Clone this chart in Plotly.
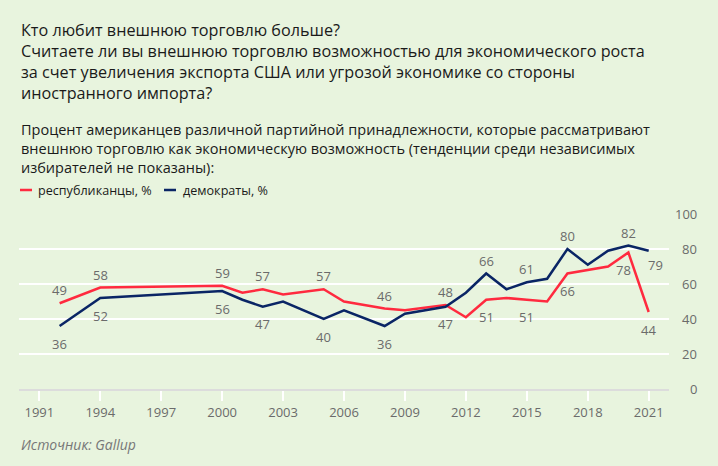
import plotly.graph_objects as go

years_rep = [1992, 1994, 2000, 2001, 2002, 2003, 2005, 2006, 2008, 2009, 2011, 2012, 2013, 2014, 2015, 2016, 2017, 2018, 2019, 2020, 2021]
rep = [49, 58, 59, 55, 57, 54, 57, 50, 46, 45, 48, 41, 51, 52, 51, 50, 66, 68, 70, 78, 44]

years_dem = [1992, 1994, 2000, 2001, 2002, 2003, 2005, 2006, 2008, 2009, 2011, 2012, 2013, 2014, 2015, 2016, 2017, 2018, 2019, 2020, 2021]
dem = [36, 52, 56, 51, 47, 50, 40, 45, 36, 43, 47, 55, 66, 57, 61, 63, 80, 71, 79, 82, 79]

# labelled points: (year, position)
rep_labels = [(1992, "above"), (1994, "above"), (2000, "above"), (2002, "above"), (2005, "above"),
              (2008, "above"), (2011, "above"), (2013, "below"), (2015, "below"), (2017, "below"),
              (2020, "below_left"), (2021, "below")]
dem_labels = [(1992, "below"), (1994, "below"), (2000, "below"), (2002, "below"), (2005, "below"),
              (2008, "below"), (2011, "below"), (2013, "above"), (2015, "above"), (2017, "above"),
              (2020, "above"), (2021, "below_right")]

x_ticks = [1991, 1994, 1997, 2000, 2003, 2006, 2009, 2012, 2015, 2018, 2021]
y_ticks = [0, 20, 40, 60, 80, 100]

title_lines = ["Кто любит внешнюю торговлю больше?",
               "Считаете ли вы внешнюю торговлю возможностью для экономического роста",
               "за счет увеличения экспорта США или угрозой экономике со стороны",
               "иностранного импорта?"]
subtitle_lines = ["Процент американцев различной партийной принадлежности, которые рассматривают",
                  "внешнюю торговлю как экономическую возможность (тенденции среди независимых",
                  "избирателей не показаны):"]
legend_names = ["республиканцы, %", "демократы, %"]
source = "Источник: Gallup"

RED = "#ff2a3f"
NAVY = "#0a2565"
BG = "#e8f4de"
GREY = "#6b6b6b"
FONT = "Open Sans"

W, H = 718, 466
L, R, T, B = 19, 49, 214, 77
PW, PH = W - L - R, H - T - B


def px(xp):
    return (xp - L) / PW


def py(yp):
    return (H - B - yp) / PH


fig = go.Figure()
fig.add_trace(go.Scatter(x=years_rep, y=rep, mode="lines", line=dict(color=RED, width=2.5),
                         name=legend_names[0], hoverinfo="skip"))
fig.add_trace(go.Scatter(x=years_dem, y=dem, mode="lines", line=dict(color=NAVY, width=2.5),
                         name=legend_names[1], hoverinfo="skip"))

ann = []
offsets = {"above": (0, 13), "below": (0, -17.5), "below_left": (-5, -17), "below_right": (7, -14.5)}
for yrs, vals, labels in [(years_rep, rep, rep_labels), (years_dem, dem, dem_labels)]:
    for yr, pos in labels:
        v = vals[yrs.index(yr)]
        dx, dy = offsets[pos]
        ann.append(dict(x=yr, y=v, xref="x", yref="y", text=str(v), showarrow=False,
                        xshift=dx, yshift=dy, xanchor="center", yanchor="middle",
                        font=dict(family=FONT, size=13, color=GREY)))

for t in y_ticks:
    ann.append(dict(x=px(699), y=t, xref="paper", yref="y", text=str(t), showarrow=False,
                    xanchor="right", yanchor="middle", font=dict(family=FONT, size=13, color=GREY)))

ann.append(dict(x=px(19), y=py(17), xref="paper", yref="paper", xanchor="left", yanchor="top",
                align="left", showarrow=False, text="<br>".join(title_lines),
                font=dict(family=FONT, size=16.2, color="#1a1a1a")))
ann.append(dict(x=px(19), y=py(118), xref="paper", yref="paper", xanchor="left", yanchor="top",
                align="left", showarrow=False, text="<br>".join(subtitle_lines),
                font=dict(family=FONT, size=14.5, color="#1a1a1a")))
ann.append(dict(x=px(36), y=py(190), xref="paper", yref="paper", xanchor="left", yanchor="middle",
                showarrow=False, text=legend_names[0], font=dict(family=FONT, size=12.6, color="#1a1a1a")))
ann.append(dict(x=px(181), y=py(190), xref="paper", yref="paper", xanchor="left", yanchor="middle",
                showarrow=False, text=legend_names[1], font=dict(family=FONT, size=12.6, color="#1a1a1a")))
ann.append(dict(x=px(19), y=py(444), xref="paper", yref="paper", xanchor="left", yanchor="middle",
                showarrow=False, text="<i>" + source + "</i>",
                font=dict(family=FONT, size=14, color="#777777")))

shapes = [
    dict(type="line", xref="paper", yref="paper", x0=px(20), x1=px(32), y0=py(190), y1=py(190),
         line=dict(color=RED, width=2.5)),
    dict(type="line", xref="paper", yref="paper", x0=px(164), x1=px(176), y0=py(190), y1=py(190),
         line=dict(color=NAVY, width=2.5)),
]

fig.update_layout(
    width=W, height=H, margin=dict(l=L, r=R, t=T, b=B),
    paper_bgcolor=BG, plot_bgcolor=BG, showlegend=False,
    annotations=ann, shapes=shapes,
    xaxis=dict(range=[1990, 2022], tickvals=x_ticks, ticks="outside", ticklen=10, tickwidth=2,
               tickcolor="white", showgrid=False, showline=True, linecolor="#dcdcdc", linewidth=2,
               zeroline=False, tickfont=dict(family=FONT, size=13, color=GREY), fixedrange=True),
    yaxis=dict(range=[0, 100], tickvals=y_ticks, showticklabels=False, showgrid=True,
               gridcolor="white", gridwidth=2, zeroline=False, fixedrange=True),
)

fig.write_html("out.html")
